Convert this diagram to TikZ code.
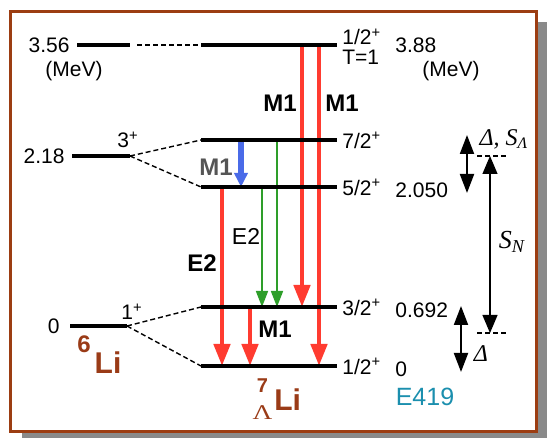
\documentclass[tikz,border=0pt]{standalone}
\usepackage{fontspec}
\setmainfont{Liberation Sans}
\newfontfamily\greekserif{Liberation Serif}
\usepackage{graphicx}
\usetikzlibrary{arrows.meta, positioning, calc}
\definecolor{framebrown}{HTML}{9C3D12}
\definecolor{nucbrown}{HTML}{9A3B17}
\definecolor{gred}{HTML}{FF3B30}
\definecolor{ggreen}{HTML}{2E9E2A}
\definecolor{gblue}{HTML}{4A6BE8}
\definecolor{expteal}{HTML}{1B8FAE}
\definecolor{shadowgray}{HTML}{8A8A8A}
\definecolor{labelgray}{HTML}{555555}
% stacked left scripts (mass number over hyperon)
\newcommand{\leftstack}[2]{%
  \makebox[0pt][l]{\makebox[9pt]{\raisebox{9pt}{\fontsize{10}{10}\selectfont #1}}}%
  \makebox[9pt]{\raisebox{-4.5pt}{\fontsize{10.5}{10}\greekserif\mdseries\scalebox{1.3}[1]{#2}}}}

\begin{document}
\begin{tikzpicture}[
    x=0.5pt, y=-0.5pt,
    level/.style={line width=2pt},
    link/.style={line width=0.7pt, dash pattern=on 2.5pt off 1.5pt},
    lbl/.style={font=\fontsize{10.5}{12}\selectfont, inner sep=0pt},
    mult/.style={font=\fontsize{12}{14}\selectfont\bfseries, inner sep=0pt},
    nuc/.style={font=\fontsize{15}{17}\selectfont\bfseries, text=nucbrown, inner sep=0pt},
    symb/.style={font=\fontsize{12}{14}\selectfont\greekserif\itshape, inner sep=0pt},
    redtr/.style={draw=gred, line width=2.3pt, -{Triangle[width=8pt,length=11pt]}},
    greentr/.style={draw=ggreen, line width=0.85pt, -{Triangle[width=6pt,length=8pt]}},
    bluetr/.style={draw=gblue, line width=2.6pt, -{Triangle[width=6.5pt,length=7pt]}},
    gaparrow/.style={line width=1pt, {Triangle[width=7pt,length=9.5pt]}-{Triangle[width=7pt,length=9.5pt]}},
    separrow/.style={line width=0.6pt, {Triangle[width=7.5pt,length=9pt]}-{Triangle[width=7.5pt,length=9pt]}},
    gapline/.style={line width=0.7pt, dash pattern=on 2.5pt off 1.5pt},
]
\useasboundingbox (0,0) rectangle (547,438);

% ── Frame with shadow ──────────────────────────────────────────────────────
\fill[shadowgray] (22,22) rectangle (547,438);
\draw[framebrown, line width=1.5pt, fill=white] (10.5,11.5) rectangle (536.5,431.5);

% ── Level end points ───────────────────────────────────────────────────────
\def\xR{337}
\def\xL{201}

\coordinate (g356l) at (77,45);   \coordinate (g356r) at (130,45);
\coordinate (g218l) at (72,156);  \coordinate (g218r) at (130,156);
\coordinate (g0l)   at (70,326);  \coordinate (g0r)   at (127,326);

\coordinate (tl)  at (\xL,45);    \coordinate (tr)  at (\xR,45);
\coordinate (s72l) at (\xL,140);  \coordinate (s72r) at (\xR,140);
\coordinate (s52l) at (\xL,187);  \coordinate (s52r) at (\xR,187);
\coordinate (s32l) at (\xL,307);  \coordinate (s32r) at (\xR,307);
\coordinate (s12l) at (\xL,366);  \coordinate (s12r) at (\xR,366);

% columns of the transitions and of the energies
\coordinate (cA) at (222,0);
\coordinate (cB) at (241,0);
\coordinate (cC) at (250,0);
\coordinate (cD) at (262,0);
\coordinate (cE) at (277,0);
\coordinate (cF) at (302,0);
\coordinate (cG) at (319,0);
\coordinate (xe) at (395,0);

% ── Transitions ────────────────────────────────────────────────────────────
\draw[redtr]   (cF |- tr)   -- (cF |- s32r);
\draw[redtr]   (cG |- tr)   -- (cG |- s12r);
\draw[redtr]   (cA |- s52l) -- (cA |- s12l);
\draw[redtr]   (cC |- s32l) -- (cC |- s12l);
\draw[greentr] (cD |- s52l) -- (cD |- s32l);
\draw[greentr] (cE |- s72l) -- (cE |- s32l);
\draw[bluetr]  ([yshift=-1pt]cB |- s72l) -- (cB |- s52l);

\node[mult] (m1a) at (280,103) {M1};
\node[mult] (m1b) at (342,103) {M1};
\node[mult, text=labelgray] (m1c) at (216,167) {M1};
\node[mult] (e2a) at (202,263) {E2};
\node[lbl, font=\fontsize{11.5}{13}\selectfont] (e2b) at (246,236) {E2};
\node[mult] (m1d) at (275,329) {M1};

% ── Levels ─────────────────────────────────────────────────────────────────
\draw[level] (g356l) -- (g356r);
\draw[level] (g218l) -- (g218r);
\draw[level] (g0l) -- (g0r);
\foreach \s in {t,s72,s52,s32,s12}
    \draw[level] (\s l) -- (\s r);

\draw[link, shorten <=3.5pt] (g356r) -- (tl);
\draw[link] (g218r) -- (s72l);
\draw[link] (g218r) -- (s52l);
\draw[link] (g0r) -- (s32l);
\draw[link] (g0r) -- (s12l);

% ── Level labels ───────────────────────────────────────────────────────────
\node[lbl, anchor=east] (e356) at ([xshift=-3.5pt]g356l) {3.56};
\node[lbl] (mevl) at (74,71) {(MeV)};
\node[lbl, anchor=east] (e218) at ([xshift=-3.5pt]g218l) {2.18};
\node[lbl, anchor=east] (e0) at ([xshift=-5pt]g0l) {0};
\node[lbl, anchor=base west] (j3) at ([xshift=-6.5pt, yshift=4pt]g218r) {3\textsuperscript{+}};
\node[lbl, anchor=base west] (j1) at ([xshift=-3pt, yshift=3pt]g0r) {1\textsuperscript{+}};

\node[lbl, anchor=base west] (jt) at ([xshift=2.5pt, yshift=0pt]tr) {1/2\textsuperscript{+}};
\node[lbl, anchor=base west] (tt) at ([xshift=2.5pt, yshift=-10pt]tr) {T=1};
\node[lbl, anchor=west] (j72) at ([xshift=2.5pt]s72r) {7/2\textsuperscript{+}};
\node[lbl, anchor=west] (j52) at ([xshift=2.5pt]s52r) {5/2\textsuperscript{+}};
\node[lbl, anchor=west] (j32) at ([xshift=2.5pt]s32r) {3/2\textsuperscript{+}};
\node[lbl, anchor=west] (j12) at ([xshift=2.5pt]s12r) {1/2\textsuperscript{+}};

\node[lbl, anchor=west] (et)  at (xe |- tr) {3.88};
\node[lbl] (mevr) at (451,71) {(MeV)};
\node[lbl, anchor=west] (e52) at ([yshift=-1.5pt]xe |- s52r) {2.050};
\node[lbl, anchor=west] (e32) at ([yshift=-1.5pt]xe |- s32r) {0.692};
\node[lbl, anchor=west] (e12) at ([yshift=-1.5pt]xe |- s12r) {0};

% ── Nuclei ─────────────────────────────────────────────────────────────────
\node[nuc, anchor=base west] (li6) at (77,374)
    {\raisebox{10.5pt}{\fontsize{12}{12}\selectfont 6}\kern2pt Li};
\node[nuc, anchor=base west] (li7) at (253,411)
    {\leftstack{7}{Λ}\kern1.5pt Li};
\node[inner sep=0pt, text=expteal, font=\fontsize{12.5}{14}\selectfont] (exp) at (425,397) {E419};

% ── Separation energies ────────────────────────────────────────────────────
\coordinate (dAt) at (467,135);  \coordinate (dAb) at (467,193);
\coordinate (dBt) at (461,306);  \coordinate (dBb) at (461,372);
\coordinate (hlA) at (477,156);  \coordinate (hrA) at (508,156);
\coordinate (hlB) at (477,333);  \coordinate (hrB) at (508,333);
\coordinate (snT) at (490,156);  \coordinate (snB) at (490,333);

\draw[gaparrow] (dAt) -- (dAb);
\draw[gaparrow] (dBt) -- (dBb);
\draw[gapline] (hlA) -- (hrA);
\draw[gapline] (hlB) -- (hrB);
\draw[separrow] (snT) -- (snB);

\node[symb] (dsl) at (504,139) {Δ, S\textsubscript{Λ}};
\node[symb, font=\fontsize{13}{14}\selectfont\greekserif\itshape] (sn) at (512,242) {S\textsubscript{N}};
\node[symb] (dl) at (481,354) {Δ};

\end{tikzpicture}
\end{document}
